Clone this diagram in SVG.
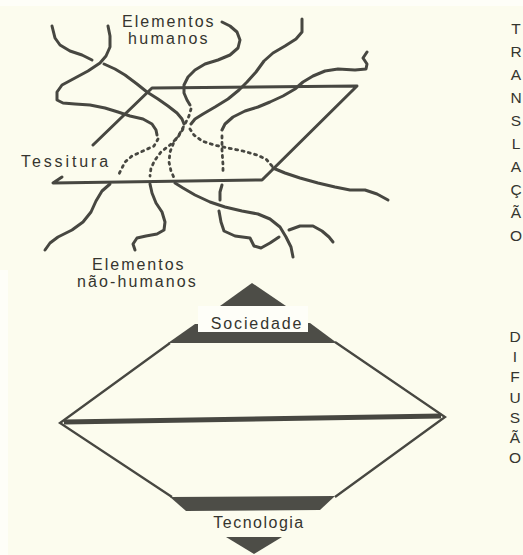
<svg xmlns="http://www.w3.org/2000/svg" width="523" height="555" viewBox="0 0 523 555">
<style>
.s{fill:none;stroke:#474741;stroke-width:3;stroke-linecap:round;stroke-linejoin:round}
.d{fill:none;stroke:#474741;stroke-width:2.8;stroke-linecap:round;stroke-dasharray:2 4.5}
.e{fill:none;stroke:#474741;stroke-width:2.3;stroke-linejoin:miter}
.f{fill:#4d4d47}
.t{font-family:"Liberation Sans",Arial,sans-serif;font-size:16px;fill:#35352f}
.v{font-family:"Liberation Sans",Arial,sans-serif;font-size:15.5px;fill:#35352f;text-anchor:middle}
</style>
<rect x="0" y="0" width="523" height="555" fill="#fcfcee"/>
<rect x="0" y="0" width="523" height="6" fill="#fefef8"/>
<rect x="0" y="270" width="8" height="285" fill="#fefef8"/>

<g id="connectors">
<path class="s" d="M52,26 L55,38 L60,45 L70,51 L82,55 L92,60"/>
<path class="s" d="M104,64 L115,69 L125,75 L137,84 L147,92 L158,99 L168,106 L177,113 L182,119 L184,124"/>
<path class="s" d="M108,26 L110,36 L110,47 L106,56 L100,63 L88,71 L75,78 L62,85 L57,92 L57,100 L63,103 L75,104 L90,105 L105,108 L118,112 L130,116 L143,119 L152,124 L156,130 L157,135"/>
<path class="d" d="M158,139 L154,146 L143,151 L132,156 L125,162 L122,168 L119,174"/>
<path class="s" d="M110,184 L102,191 L96,201 L91,212 L83,222 L72,230 L58,237 L50,243 L45,250"/>
<path class="s" d="M222,22 L230,26 L237,32 L240,40 L238,48 L230,55 L218,60 L205,64 L195,70 L188,77 L184,85 L184,93 L187,100 L190,105"/>
<path class="d" d="M191,109 L189,116 L185,124 L180,133 L174,142 L170,152 L169,162 L171,171 L175,180"/>
<path class="s" d="M175,183 L183,188 L195,195 L210,202 L225,207 L242,211 L258,214 L270,219 L280,227 L286,237 L291,247 L293,257"/>
<path class="s" d="M302,19 L302,32 L296,39 L285,46 L273,53 L264,61 L256,72 L247,82 L239,90 L228,99 L215,107 L203,114 L195,119 L191,124"/>
<path class="d" d="M190,129 L194,135 L202,141 L214,145 L228,148 L243,151 L257,155 L266,159 L272,166"/>
<path class="s" d="M273,168 L285,173 L300,178 L318,183 L335,187 L350,190 L365,190 L377,194 L388,200"/>
<path class="d" d="M183,129 L178,137 L170,145 L161,152 L155,160 L151,168 L150,176"/>
<path class="s" d="M150,184 L152,193 L156,203 L162,212 L165,222 L164,230 L157,234 L146,236 L137,238 L133,244 L135,250"/>
<path class="s" d="M367,52 L363,58 L367,64 L366,69 L355,70 L338,69 L325,71 L313,76 L303,82 L295,89 L283,96 L270,102 L258,107 L245,111 L233,117 L225,124 L222,130"/>
<path class="d" d="M222,136 L222,150 L223,165 L223,174"/>
<path class="s" d="M222,185 L220,192 L220,200"/>
<path class="s" d="M219,211 L221,222 L224,231 L235,236 L250,238 L254,246 L261,248 L270,243 L279,237"/>
<path class="s" d="M289,230 L300,226 L313,226 L322,231 L329,237 L333,242"/>
</g>

<g id="tessitura">
<path class="s" d="M93,145 L152,88 L357,86 L262,180 L53,183 L62,177" stroke-width="3.2"/>
<text class="t" x="21" y="167" letter-spacing="2.9">Tessitura</text>
</g>

<g id="elementos-humanos">
<text class="t" x="122" y="27" letter-spacing="2">Elementos</text>
<text class="t" x="128" y="44" letter-spacing="2.3">humanos</text>
</g>

<g id="elementos-nao-humanos">
<text class="t" x="92" y="270" letter-spacing="2">Elementos</text>
<text class="t" x="77" y="287" letter-spacing="2.1">não-humanos</text>
</g>

<g id="translacao">
<text class="v" x="516" y="34">T</text>
<text class="v" x="516" y="57">R</text>
<text class="v" x="516" y="80">A</text>
<text class="v" x="516" y="103">N</text>
<text class="v" x="516" y="126">S</text>
<text class="v" x="516" y="149">L</text>
<text class="v" x="516" y="172">A</text>
<text class="v" x="516" y="195">Ç</text>
<text class="v" x="516" y="218">Ã</text>
<text class="v" x="516" y="241">O</text>
</g>

<g id="difusao">
<text class="v" x="515" y="342">D</text>
<text class="v" x="515" y="362">I</text>
<text class="v" x="515" y="382">F</text>
<text class="v" x="515" y="403">U</text>
<text class="v" x="515" y="423">S</text>
<text class="v" x="515" y="443">Ã</text>
<text class="v" x="515" y="463">O</text>
</g>

<g id="diamond">
<polyline class="e" points="170,343 60,423 172,497"/>
<polyline class="e" points="335,342 445,417 335,497"/>
<line x1="64" y1="422" x2="441" y2="416" stroke="#474741" stroke-width="5"/>
</g>

<g id="sociedade">
<polygon class="f" points="252,283 286,306 220,306"/>
<polygon class="f" points="195,324 310,323 337,343 168,343"/>
<rect x="198" y="306" width="110" height="26" fill="#fefef8"/>
<text class="t" x="257" y="329" text-anchor="middle" letter-spacing="1.9">Sociedade</text>
</g>

<g id="tecnologia">
<polygon class="f" points="170,497 335,496 320,510 186,511"/>
<text class="t" x="259" y="528" text-anchor="middle" letter-spacing="1.5">Tecnologia</text>
<polygon class="f" points="226,537 282,537 254,554"/>
</g>
</svg>
